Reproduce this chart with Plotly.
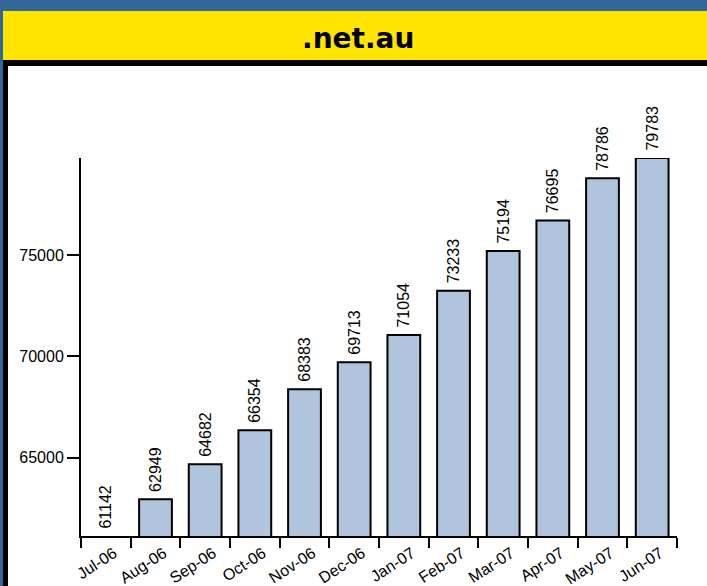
import plotly.graph_objects as go

months = ["Jul-06", "Aug-06", "Sep-06", "Oct-06", "Nov-06", "Dec-06",
          "Jan-07", "Feb-07", "Mar-07", "Apr-07", "May-07", "Jun-07"]
counts = [61142, 62949, 64682, 66354, 68383, 69713,
          71054, 73233, 75194, 76695, 78786, 79783]
y_ticks = [65000, 70000, 75000]
title_text = ".net.au"

W, H = 707, 586
ML, MR, MT, MB = 81, 30, 158, 50
PW, PH = W - ML - MR, H - MT - MB

def px(x):
    return (x - ML) / PW

def py(y):
    return (H - MB - y) / PH

BLUE = "rgb(51,102,153)"
YELLOW = "rgb(255,229,0)"
FONT = "Liberation Sans, Arial, sans-serif"

y_min = min(counts)
outline_widths = [0 if v <= y_min else 2 for v in counts]

fig = go.Figure()
fig.add_trace(go.Bar(
    x=months, y=counts,
    marker=dict(color="#B0C4DE", line=dict(color="black", width=outline_widths)),
    text=["\u00a0" + str(v) for v in counts],
    textposition="outside", textangle=-90,
    textfont=dict(family=FONT, size=16, color="black"),
    cliponaxis=False, constraintext="none", hoverinfo="skip",
))

shapes = [
    dict(type="rect", xref="paper", yref="paper", x0=px(0), x1=px(W), y0=py(0), y1=py(H),
         fillcolor=BLUE, line=dict(width=0), layer="below"),
    dict(type="rect", xref="paper", yref="paper", x0=px(3), x1=px(W), y0=py(11), y1=py(H),
         fillcolor="black", line=dict(width=0), layer="below"),
    dict(type="rect", xref="paper", yref="paper", x0=px(3), x1=px(W), y0=py(11), y1=py(60),
         fillcolor=YELLOW, line=dict(width=0), layer="below"),
    dict(type="rect", xref="paper", yref="paper", x0=px(8), x1=px(W), y0=py(66), y1=py(H),
         fillcolor="white", line=dict(width=0), layer="below"),
]

fig.update_layout(
    width=W, height=H,
    margin=dict(l=ML, r=MR, t=MT, b=MB, pad=0, autoexpand=False),
    paper_bgcolor=BLUE, plot_bgcolor="rgba(0,0,0,0)",
    showlegend=False, bargap=0.34,
    shapes=shapes,
    font=dict(family=FONT, size=16, color="black"),
    annotations=[dict(text="<b>" + title_text + "</b>", xref="paper", yref="paper",
                      x=px(358), y=py(38), xanchor="center", yanchor="middle",
                      showarrow=False,
                      font=dict(family="DejaVu Sans, sans-serif", size=28, color="black"))],
)
fig.update_xaxes(
    type="category", tickson="boundaries", ticks="outside", ticklen=10, tickwidth=2,
    tickcolor="black", showline=True, linecolor="black", linewidth=2,
    tickangle=-33, showgrid=False, tickfont=dict(family=FONT, size=16), automargin=False,
    ticklabelshift=8, ticklabelstandoff=0,
)
fig.update_yaxes(
    range=[y_min, max(counts)], tickvals=y_ticks, tickformat="d", ticks="outside",
    ticklen=12, tickwidth=2, tickcolor="black", showline=True, linecolor="black",
    linewidth=2, showgrid=False, zeroline=False, tickfont=dict(family=FONT, size=16),
    automargin=False,
)

fig.write_html("out.html", config={"displayModeBar": False},
               post_script="document.body.style.margin='0';document.body.style.overflow='hidden';")
